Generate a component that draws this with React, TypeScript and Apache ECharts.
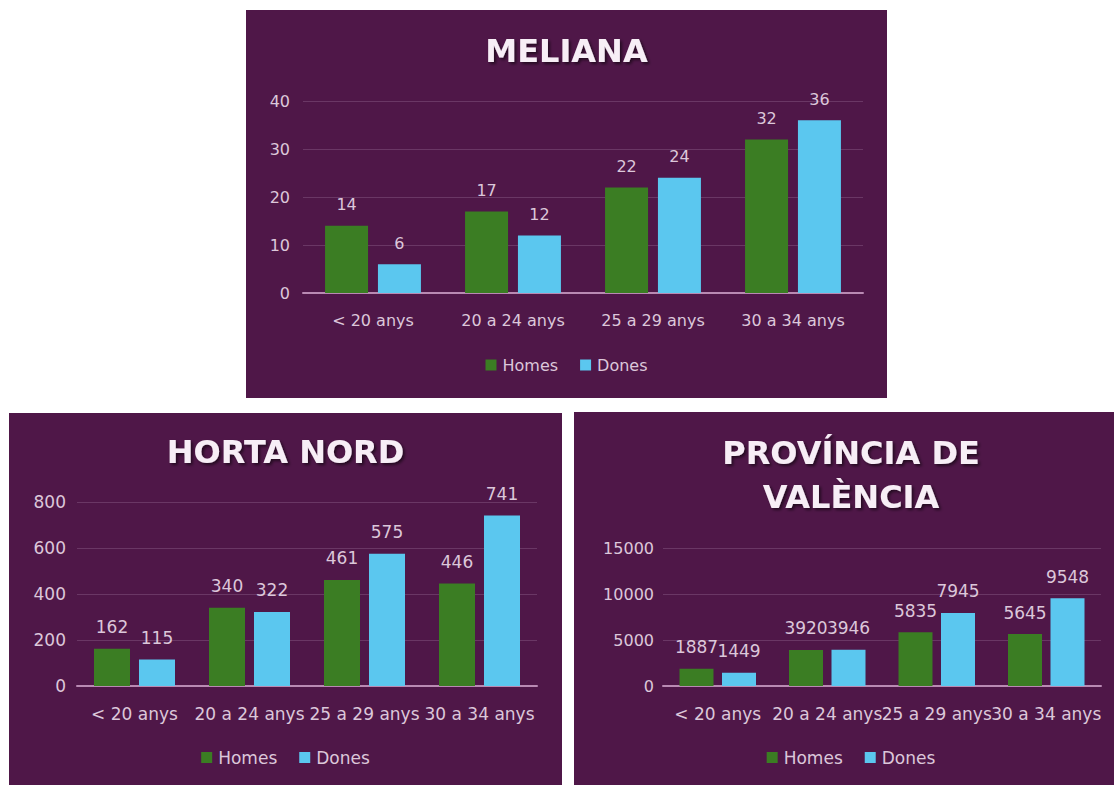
import React, { useEffect, useRef } from "react";
import * as echarts from "echarts";

const categories = ["< 20 anys", "20 a 24 anys", "25 a 29 anys", "30 a 34 anys"];
const seriesNames = ["Homes", "Dones"];

const melianaHomes = [14, 17, 22, 32];
const melianaDones = [6, 12, 24, 36];

const hortaHomes = [162, 340, 461, 446];
const hortaDones = [115, 322, 575, 741];

const provinciaHomes = [1887, 3920, 5835, 5645];
const provinciaDones = [1449, 3946, 7945, 9548];

const BG = "#4f1748";
const TEXT = "#dcc7da";
const GREEN = "#3b7d23";
const CYAN = "#5bc7ef";
const FONT = "DejaVu Sans";

type Cfg = {
  title: string;
  titleTop: number;
  titleLineHeight?: number;
  homes: number[];
  dones: number[];
  max: number;
  interval: number;
  grid: { left: number; right: number; top: number; bottom: number };
  barWidth: number;
  barGap: string;
  yFont: number;
  xFont: number;
  valFont: number;
  legendBottom: number;
  yMargin: number;
};

function makeOption(c: Cfg) {
  const labelCommon = {
    show: true,
    position: "top",
    distance: 13,
    color: TEXT,
    fontFamily: FONT,
    fontSize: c.valFont,
  };
  return {
    animation: false,
    backgroundColor: BG,
    title: {
      text: c.title,
      left: "center",
      top: c.titleTop,
      textStyle: {
        color: "#f7eef6",
        fontFamily: FONT,
        fontWeight: "bold",
        fontSize: 32,
        lineHeight: c.titleLineHeight ?? 36,
        textShadowColor: "rgba(0,0,0,0.55)",
        textShadowBlur: 3,
        textShadowOffsetX: 2,
        textShadowOffsetY: 2,
      },
    },
    grid: { ...c.grid, containLabel: false },
    legend: {
      data: seriesNames,
      bottom: c.legendBottom,
      left: "center",
      icon: "rect",
      itemWidth: 11,
      itemHeight: 11,
      itemGap: 22,
      textStyle: { color: TEXT, fontFamily: FONT, fontSize: c.xFont, padding: [0, 0, 0, 1] },
    },
    xAxis: {
      type: "category",
      data: categories,
      axisLine: { lineStyle: { color: "#b98ab3", width: 2 } },
      axisTick: { show: false },
      axisLabel: {
        color: TEXT,
        fontFamily: FONT,
        fontSize: c.xFont,
        margin: 19,
        interval: 0,
      },
    },
    yAxis: {
      type: "value",
      min: 0,
      max: c.max,
      interval: c.interval,
      axisLine: { show: false },
      axisTick: { show: false },
      axisLabel: {
        color: TEXT,
        fontFamily: FONT,
        fontSize: c.yFont,
        margin: c.yMargin,
        formatter: (v: number) => String(v),
      },
      splitLine: { lineStyle: { color: "#6a3765", width: 1 } },
    },
    series: [
      {
        name: seriesNames[0],
        type: "bar",
        data: c.homes,
        barWidth: c.barWidth,
        barGap: c.barGap,
        itemStyle: { color: GREEN },
        label: labelCommon,
      },
      {
        name: seriesNames[1],
        type: "bar",
        data: c.dones,
        barWidth: c.barWidth,
        barGap: c.barGap,
        itemStyle: { color: CYAN },
        label: labelCommon,
      },
    ],
  };
}

function Chart({ cfg, style }: { cfg: Cfg; style: React.CSSProperties }) {
  const ref = useRef<HTMLDivElement>(null);
  useEffect(() => {
    if (!ref.current) return;
    const chart = echarts.init(ref.current, undefined, { renderer: "svg" });
    chart.setOption(makeOption(cfg));
    return () => chart.dispose();
  }, []);
  return <div ref={ref} style={{ position: "absolute", ...style }} />;
}

const melianaCfg: Cfg = {
  title: "MELIANA",
  titleTop: 18,
  homes: melianaHomes,
  dones: melianaDones,
  max: 40,
  interval: 10,
  grid: { left: 57, right: 24, top: 91, bottom: 105 },
  barWidth: 43,
  barGap: "23%",
  yFont: 16,
  xFont: 16,
  valFont: 16,
  legendBottom: 20,
  yMargin: 13,
};

const hortaCfg: Cfg = {
  title: "HORTA NORD",
  titleTop: 16,
  homes: hortaHomes,
  dones: hortaDones,
  max: 800,
  interval: 200,
  grid: { left: 68, right: 25, top: 89, bottom: 99 },
  barWidth: 36,
  barGap: "25%",
  yFont: 17,
  xFont: 17,
  valFont: 17,
  legendBottom: 14,
  yMargin: 11,
};

const provinciaCfg: Cfg = {
  title: "PROVÍNCIA DE\nVALÈNCIA",
  titleTop: 14,
  titleLineHeight: 44,
  homes: provinciaHomes,
  dones: provinciaDones,
  max: 15000,
  interval: 5000,
  grid: { left: 89, right: 27, top: 136, bottom: 99 },
  barWidth: 34,
  barGap: "25%",
  yFont: 16,
  xFont: 17,
  valFont: 17,
  legendBottom: 14,
  yMargin: 9,
};

export default function App() {
  return (
    <div
      style={{
        position: "fixed",
        left: 0,
        top: 0,
        width: 1114,
        height: 785,
        background: "#ffffff",
        overflow: "hidden",
      }}
    >
      <Chart cfg={melianaCfg} style={{ left: 246, top: 10, width: 641, height: 388 }} />
      <Chart cfg={hortaCfg} style={{ left: 9, top: 413, width: 553, height: 372 }} />
      <Chart cfg={provinciaCfg} style={{ left: 574, top: 412, width: 554, height: 373 }} />
    </div>
  );
}
